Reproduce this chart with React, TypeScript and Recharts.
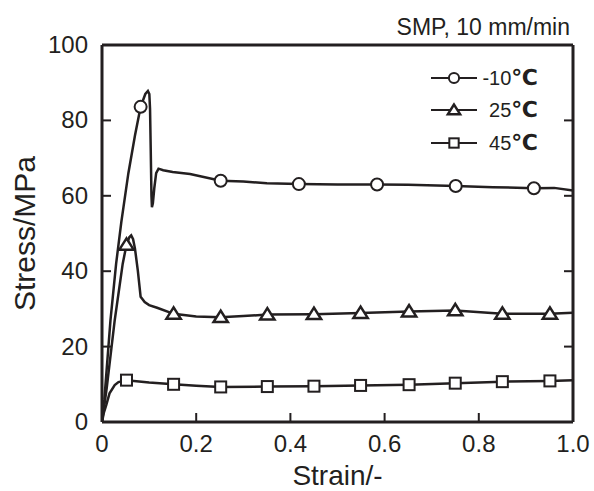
import { LineChart, Line, XAxis, YAxis } from 'recharts'

// -10℃ curve
const strainCold = [0, 0.005, 0.018, 0.03, 0.041, 0.056, 0.07, 0.082, 0.092, 0.0975, 0.1005, 0.102, 0.1035, 0.105, 0.106, 0.108, 0.111, 0.115, 0.12, 0.13, 0.15, 0.187, 0.252, 0.3, 0.35, 0.418, 0.5, 0.584, 0.65, 0.751, 0.83, 0.917, 0.96, 1.0]
const stressCold = [0, 6, 27, 42, 53, 66, 76, 83.6, 87, 87.8, 87, 83, 72, 60, 57, 58, 62, 66, 67.2, 66.8, 66.3, 65.8, 64, 63.8, 63.3, 63.1, 63, 63, 62.9, 62.6, 62.3, 62, 62.1, 61.4]
const markCold = [0.082, 0.252, 0.418, 0.584, 0.751, 0.917]

// 25℃ curve
const strainRoom = [0, 0.01, 0.027, 0.044, 0.052, 0.058, 0.062, 0.066, 0.07, 0.076, 0.082, 0.0906, 0.1, 0.117, 0.152, 0.2, 0.252, 0.3, 0.351, 0.45, 0.549, 0.652, 0.75, 0.85, 0.951, 1.0]
const stressRoom = [0, 9, 27, 42, 47, 49, 49.5, 48.5, 46, 40.2, 33.2, 31.8, 31, 30.3, 28.7, 28, 27.8, 28.1, 28.5, 28.6, 28.9, 29.3, 29.6, 28.7, 28.7, 29.0]
const markRoom = [0.052, 0.152, 0.252, 0.351, 0.45, 0.549, 0.652, 0.75, 0.85, 0.951]

// 45℃ curve
const strainHot = [0, 0.004, 0.009, 0.016, 0.027, 0.035, 0.052, 0.1, 0.152, 0.2, 0.252, 0.351, 0.45, 0.549, 0.652, 0.75, 0.85, 0.951, 1.0]
const stressHot = [0, 2.5, 4.5, 7.6, 9.8, 10.6, 11.1, 10.5, 10, 9.6, 9.3, 9.4, 9.5, 9.7, 9.9, 10.3, 10.7, 10.9, 11.1]
const markHot = [0.052, 0.152, 0.252, 0.351, 0.45, 0.549, 0.652, 0.75, 0.85, 0.951]

const xTicks = [0, 0.2, 0.4, 0.6, 0.8, 1.0]
const yTicks = [0, 20, 40, 60, 80, 100]
const legendLabels = ['-10', '25', '45']

const INK = '#231f20'
const FONT = '"Liberation Sans", Arial, sans-serif'

const toRows = (xs: number[], ys: number[]) => xs.map((s, i) => ({ strain: s, stress: ys[i] }))
const fmtX = (v: number) => (v === 0 ? '0' : v.toFixed(1))

function marker(kind: string, cx: number, cy: number, size = 1) {
  if (kind === 'circle') return <circle cx={cx} cy={cy} r={6 * size} fill="#fff" stroke={INK} strokeWidth={2} />
  if (kind === 'triangle') {
    const h = 6.5 * size
    return <polygon points={`${cx},${cy - h} ${cx - h * 1.1},${cy + h * 0.75} ${cx + h * 1.1},${cy + h * 0.75}`} fill="#fff" stroke={INK} strokeWidth={2.5} />
  }
  const s = 5.5 * size
  return <rect x={cx - s} y={cy - s} width={s * 2} height={s * 2} fill="#fff" stroke={INK} strokeWidth={2} />
}

const makeDot = (marks: number[], kind: string) => (props: any) => {
  const { cx, cy, payload, index } = props
  if (!marks.includes(payload.strain)) return <g key={index} />
  return <g key={index}>{marker(kind, cx, cy)}</g>
}

const BottomTick = ({ x, y, payload }: any) => (
  <g>
    <line x1={x} x2={x} y1={y} y2={y - 9} stroke={INK} strokeWidth={2} />
    <text x={x} y={y + 30} textAnchor="middle" fontSize={24} fill={INK} fontFamily={FONT}>{fmtX(payload.value)}</text>
  </g>
)
const TopTick = ({ x, y }: any) => <line x1={x} x2={x} y1={y} y2={y + 9} stroke={INK} strokeWidth={2} />
const LeftTick = ({ x, y, payload }: any) => (
  <g>
    <line x1={x} x2={x + 9} y1={y} y2={y} stroke={INK} strokeWidth={2} />
    <text x={x - 14} y={y + 8} textAnchor="end" fontSize={24} fill={INK} fontFamily={FONT}>{payload.value}</text>
  </g>
)
const RightTick = ({ x, y }: any) => <line x1={x} x2={x - 9} y1={y} y2={y} stroke={INK} strokeWidth={2} />

export default function App() {
  const axisLine = { stroke: INK, strokeWidth: 3 }
  const legendRows = [
    { y: 78, kind: 'circle' },
    { y: 110, kind: 'triangle' },
    { y: 143, kind: 'square' },
  ]
  return (
    <div style={{ position: 'absolute', left: 0, top: 0, width: 594, height: 491, background: '#fff', fontFamily: FONT }}>
      <LineChart width={594} height={491} margin={{ top: 44, right: 20, bottom: 0, left: 0 }}>
        <XAxis xAxisId="b" dataKey="strain" type="number" domain={[0, 1]} ticks={xTicks} interval={0} height={69}
          tickSize={0} tickMargin={0} tick={<BottomTick />} axisLine={axisLine} allowDataOverflow
          label={{ value: 'Strain/-', position: 'insideBottom', offset: 6, fontSize: 28, fill: INK, fontFamily: FONT }} />
        <XAxis xAxisId="t" orientation="top" type="number" domain={[0, 1]} ticks={xTicks} interval={0} height={1}
          tickSize={0} tickMargin={0} tick={<TopTick />} axisLine={axisLine} allowDataOverflow />
        <YAxis yAxisId="l" type="number" domain={[0, 100]} ticks={yTicks} interval={0} width={102}
          tickSize={0} tickMargin={0} tick={<LeftTick />} axisLine={axisLine} allowDataOverflow
          label={{ value: 'Stress/MPa', angle: -90, position: 'insideLeft', offset: 24, fontSize: 30, fill: INK, fontFamily: FONT, style: { textAnchor: 'middle' } }} />
        <YAxis yAxisId="r" orientation="right" type="number" domain={[0, 100]} ticks={yTicks} interval={0} width={1}
          tickSize={0} tickMargin={0} tick={<RightTick />} axisLine={axisLine} allowDataOverflow />
        <Line xAxisId="b" yAxisId="l" data={toRows(strainHot, stressHot)} dataKey="stress" type="linear" stroke={INK} strokeWidth={2.5}
          dot={makeDot(markHot, 'square')} activeDot={false} isAnimationActive={false} />
        <Line xAxisId="b" yAxisId="l" data={toRows(strainRoom, stressRoom)} dataKey="stress" type="linear" stroke={INK} strokeWidth={2.5}
          dot={makeDot(markRoom, 'triangle')} activeDot={false} isAnimationActive={false} />
        <Line xAxisId="b" yAxisId="l" data={toRows(strainCold, stressCold)} dataKey="stress" type="linear" stroke={INK} strokeWidth={2.5}
          dot={makeDot(markCold, 'circle')} activeDot={false} isAnimationActive={false} />
      </LineChart>
      <svg width={594} height={491} style={{ position: 'absolute', left: 0, top: 0, pointerEvents: 'none' }}>
        <text x={570} y={35} textAnchor="end" fontSize={23} fill={INK} fontFamily={FONT}>SMP, 10 mm/min</text>
        {legendRows.map((r, i) => (
          <g key={r.kind}>
            <line x1={431} x2={477} y1={r.y} y2={r.y} stroke={INK} strokeWidth={2} />
            {marker(r.kind, 454, r.y, 0.85)}
            <text x={538} y={r.y + 7} textAnchor="end" fontSize={20} fill={INK} fontFamily={FONT}>
              {legendLabels[i]}<tspan fontSize={22} fontWeight="bold" fontFamily='"DejaVu Sans", sans-serif'>℃</tspan>
            </text>
          </g>
        ))}
      </svg>
    </div>
  )
}
